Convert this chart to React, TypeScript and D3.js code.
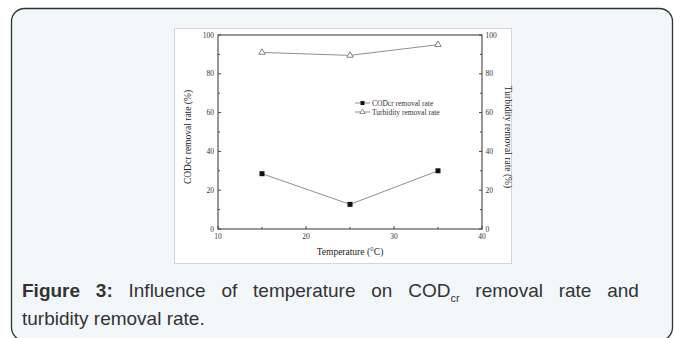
import React, { useRef, useEffect } from 'react';
import * as d3 from 'd3';

// temperatures (°C) and the two removal rates (%)
const temps: number[] = [15, 25, 35];
const codRates: number[] = [28.5, 12.7, 30];
const turbRates: number[] = [91, 89.5, 95];
const xTicks: number[] = [10, 20, 30, 40];
const yTicks: number[] = [0, 20, 40, 60, 80, 100];
const seriesNames: string[] = ['CODcr removal rate', 'Turbidity removal rate'];

const W = 674;
const H = 338;
const plot = { left: 218, right: 482, top: 35, bottom: 229 };

const App: React.FC = () => {
  const svgRef = useRef<SVGSVGElement>(null);

  useEffect(() => {
    if (!svgRef.current) return;
    const svg = d3.select(svgRef.current);
    svg.selectAll('*').remove();

    // outer panel
    svg.append('rect')
      .attr('x', 11.5).attr('y', 8.5)
      .attr('width', 661).attr('height', 332)
      .attr('rx', 13)
      .attr('fill', '#f2f7f9')
      .attr('stroke', '#333').attr('stroke-width', 1.3);

    // white figure box
    svg.append('rect')
      .attr('x', 174.5).attr('y', 28.5)
      .attr('width', 337).attr('height', 235)
      .attr('fill', '#fff')
      .attr('stroke', '#d3d7da');

    const x = d3.scaleLinear().domain([10, 40]).range([plot.left, plot.right]);
    const y = d3.scaleLinear().domain([0, 100]).range([plot.bottom, plot.top]);

    const g = svg.append('g');
    const font = '"Liberation Serif", "Times New Roman", serif';

    // frame
    g.append('rect')
      .attr('x', plot.left).attr('y', plot.top)
      .attr('width', plot.right - plot.left).attr('height', plot.bottom - plot.top)
      .attr('fill', 'none').attr('stroke', '#444').attr('stroke-width', 1.1);

    // ticks (inward), major + minor
    const yMinor = d3.range(10, 100, 20);
    const xMinor = d3.range(15, 40, 10);
    const tickCol = '#444';
    [...yTicks.map(v => ({ v, len: 3 })), ...yMinor.map(v => ({ v, len: 2 }))].forEach(t => {
      g.append('line').attr('x1', plot.left).attr('x2', plot.left + t.len)
        .attr('y1', y(t.v)).attr('y2', y(t.v)).attr('stroke', tickCol);
      g.append('line').attr('x1', plot.right).attr('x2', plot.right - t.len)
        .attr('y1', y(t.v)).attr('y2', y(t.v)).attr('stroke', tickCol);
    });
    [...xTicks.map(v => ({ v, len: 3 })), ...xMinor.map(v => ({ v, len: 2 }))].forEach(t => {
      g.append('line').attr('y1', plot.bottom).attr('y2', plot.bottom - t.len)
        .attr('x1', x(t.v)).attr('x2', x(t.v)).attr('stroke', tickCol);
    });

    // tick labels
    g.selectAll('.yl').data(yTicks).enter().append('text')
      .attr('x', plot.left - 4).attr('y', d => y(d) + 2.5)
      .attr('text-anchor', 'end').attr('font-family', font).attr('font-size', 7.5)
      .attr('fill', '#333').text(d => d);
    g.selectAll('.yr').data(yTicks).enter().append('text')
      .attr('x', plot.right + 3.5).attr('y', d => y(d) + 2.5)
      .attr('text-anchor', 'start').attr('font-family', font).attr('font-size', 7.5)
      .attr('fill', '#333').text(d => d);
    g.selectAll('.xl').data(xTicks).enter().append('text')
      .attr('x', d => x(d)).attr('y', plot.bottom + 10)
      .attr('text-anchor', 'middle').attr('font-family', font).attr('font-size', 7.5)
      .attr('fill', '#333').text(d => d);

    // axis titles
    g.append('text')
      .attr('transform', `translate(191,${(plot.top + plot.bottom) / 2 + 5}) rotate(-90)`)
      .attr('text-anchor', 'middle').attr('font-family', font).attr('font-size', 9.5)
      .attr('fill', '#222').text('CODcr removal rate (%)');
    g.append('text')
      .attr('transform', `translate(505,${(plot.top + plot.bottom) / 2 + 5}) rotate(90)`)
      .attr('text-anchor', 'middle').attr('font-family', font).attr('font-size', 9.5)
      .attr('fill', '#222').text('Turbidity removal rate (%)');
    g.append('text')
      .attr('x', (plot.left + plot.right) / 2).attr('y', 255)
      .attr('text-anchor', 'middle').attr('font-family', font).attr('font-size', 9.5)
      .attr('fill', '#222').text('Temperature (°C)');

    // lines
    const lineCol = '#8f8f8f';
    const line = d3.line<number>().x((_, i) => x(temps[i])).y(d => y(d));
    g.append('path').attr('d', line(codRates)).attr('fill', 'none')
      .attr('stroke', lineCol).attr('stroke-width', 1);
    g.append('path').attr('d', line(turbRates)).attr('fill', 'none')
      .attr('stroke', lineCol).attr('stroke-width', 1);

    // markers
    g.selectAll('.sq').data(codRates).enter().append('rect')
      .attr('x', (_, i) => x(temps[i]) - 2.5).attr('y', d => y(d) - 2.5)
      .attr('width', 5).attr('height', 5).attr('fill', '#111');
    const tri = d3.symbol().type(d3.symbolTriangle).size(18);
    g.selectAll('.tr').data(turbRates).enter().append('path')
      .attr('d', tri())
      .attr('transform', (d, i) => `translate(${x(temps[i])},${y(d)})`)
      .attr('fill', '#fff').attr('stroke', '#666').attr('stroke-width', 0.8);

    // legend
    const lx = 355;
    const ly = [103, 112];
    seriesNames.forEach((name, i) => {
      g.append('line').attr('x1', lx).attr('x2', lx + 15)
        .attr('y1', ly[i]).attr('y2', ly[i]).attr('stroke', lineCol);
      if (i === 0) {
        g.append('rect').attr('x', lx + 5.5).attr('y', ly[i] - 2)
          .attr('width', 4).attr('height', 4).attr('fill', '#111');
      } else {
        g.append('path').attr('d', d3.symbol().type(d3.symbolTriangle).size(12)())
          .attr('transform', `translate(${lx + 7.5},${ly[i]})`)
          .attr('fill', '#fff').attr('stroke', '#666').attr('stroke-width', 0.7);
      }
      g.append('text').attr('x', lx + 17).attr('y', ly[i] + 2.5)
        .attr('font-family', font).attr('font-size', 7.5).attr('fill', '#333')
        .text(name);
    });

    // caption (first line is justified in the source, hence the word spacing)
    const capFont = '"Liberation Sans", Arial, sans-serif';
    const cap = svg.append('text')
      .attr('x', 22).attr('y', 297)
      .attr('font-family', capFont)
      .attr('font-size', 19).attr('fill', '#333')
      .attr('word-spacing', 10.5);
    cap.append('tspan').attr('font-weight', 'bold').text('Figure 3:');
    cap.append('tspan').text(' Influence of temperature on COD');
    cap.append('tspan').attr('font-size', 11).attr('dy', 5).text('cr');
    cap.append('tspan').attr('dy', -5).text(' removal rate and');
    svg.append('text')
      .attr('x', 22).attr('y', 325)
      .attr('font-family', capFont)
      .attr('font-size', 19).attr('fill', '#333')
      .text('turbidity removal rate.');
  }, []);

  return (
    <svg ref={svgRef} width={W} height={H}
      style={{ position: 'absolute', left: 0, top: 0, background: '#fff' }} />
  );
};

export default App;
